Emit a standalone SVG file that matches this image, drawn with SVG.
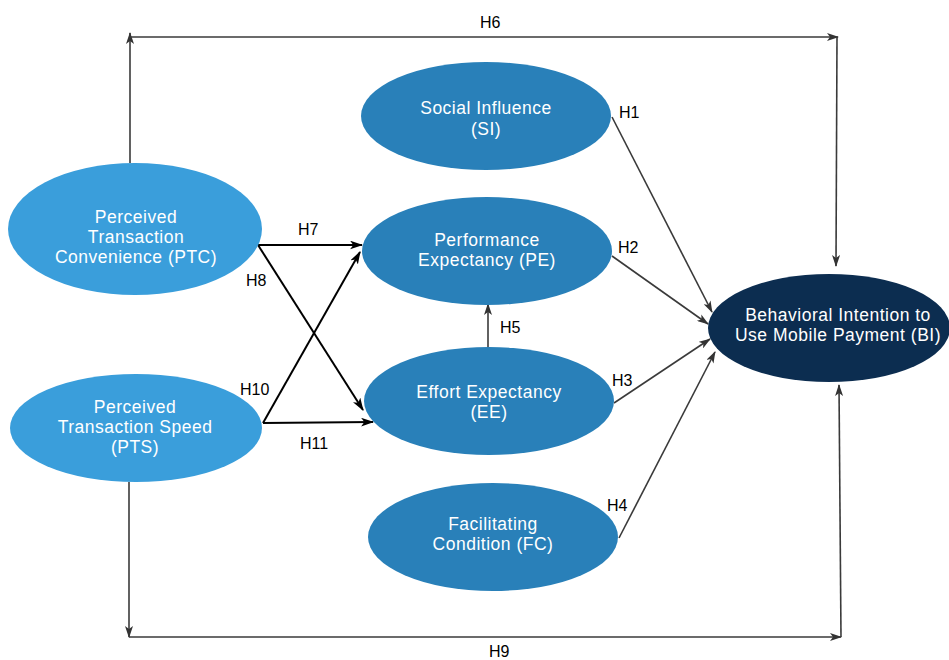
<svg xmlns="http://www.w3.org/2000/svg" width="949" height="660" viewBox="0 0 949 660">
<style>
.light{fill:#3a9edb}
.mid{fill:#2980b9}
.dark{fill:#0c2d50}
.nt{font-family:"Liberation Sans",Arial,sans-serif;font-size:17.5px;letter-spacing:0.5px;fill:#ffffff;text-anchor:middle}
.lb{font-family:"Liberation Sans",Arial,sans-serif;font-size:16px;fill:#000000}
.c{fill:none;stroke:#3a3a3a;stroke-width:1.6}
.k{fill:none;stroke:#000000;stroke-width:2}
</style>
<defs>
<marker id="ah" viewBox="0 0 12 8" refX="11" refY="4" markerWidth="12" markerHeight="8" markerUnits="userSpaceOnUse" orient="auto">
<path d="M0,0 L12,4 L0,8 L3,4 z" fill="#333333"/>
</marker>
<marker id="ahk" viewBox="0 0 12 8" refX="11" refY="4" markerWidth="13" markerHeight="9" markerUnits="userSpaceOnUse" orient="auto">
<path d="M0,0 L12,4 L0,8 L3,4 z" fill="#000000"/>
</marker>
</defs>
<rect width="949" height="660" fill="#ffffff"/>
<g id="connectors">
<line class="c" x1="130" y1="163" x2="130" y2="33" marker-end="url(#ah)"/>
<line class="c" x1="130" y1="37" x2="838" y2="37" marker-end="url(#ah)"/>
<line class="c" x1="837" y1="37" x2="836" y2="266" marker-end="url(#ah)"/>
<line class="c" x1="129" y1="482" x2="129" y2="637" marker-end="url(#ah)"/>
<line class="c" x1="129" y1="637" x2="841" y2="637" marker-end="url(#ah)"/>
<line class="c" x1="841" y1="637" x2="839" y2="385" marker-end="url(#ah)"/>
<line class="c" x1="612" y1="117" x2="712" y2="312" marker-end="url(#ah)"/>
<line class="c" x1="612" y1="256" x2="708" y2="324" marker-end="url(#ah)"/>
<line class="c" x1="614" y1="403" x2="710" y2="339" marker-end="url(#ah)"/>
<line class="c" x1="619" y1="538" x2="715" y2="352" marker-end="url(#ah)"/>
<line class="c" x1="488" y1="347" x2="488" y2="304" marker-end="url(#ah)"/>
<line class="k" x1="258" y1="245" x2="362" y2="245" marker-end="url(#ahk)"/>
<line class="k" x1="258" y1="245" x2="363" y2="410" marker-end="url(#ahk)"/>
<line class="k" x1="263" y1="423" x2="360" y2="252" marker-end="url(#ahk)"/>
<line class="k" x1="263" y1="423" x2="373" y2="422" marker-end="url(#ahk)"/>
<text class="lb" x="480" y="28">H6</text>
<text class="lb" x="619" y="118">H1</text>
<text class="lb" x="618" y="253">H2</text>
<text class="lb" x="612" y="386">H3</text>
<text class="lb" x="607" y="511">H4</text>
<text class="lb" x="500" y="333">H5</text>
<text class="lb" x="298" y="235">H7</text>
<text class="lb" x="246" y="286">H8</text>
<text class="lb" x="489" y="657">H9</text>
<text class="lb" x="240" y="395">H10</text>
<text class="lb" x="300" y="449">H11</text>
</g>
<g id="PTC">
<ellipse class="light" cx="135" cy="229" rx="127" ry="66"/>
<text class="nt" x="136" y="223">Perceived</text>
<text class="nt" x="136" y="243">Transaction</text>
<text class="nt" x="136" y="263">Convenience (PTC)</text>
</g>
<g id="PTS">
<ellipse class="light" cx="136" cy="428" rx="126" ry="54"/>
<text class="nt" x="135" y="413">Perceived</text>
<text class="nt" x="135" y="433">Transaction Speed</text>
<text class="nt" x="135" y="453">(PTS)</text>
</g>
<g id="SI">
<ellipse class="mid" cx="486" cy="116" rx="125" ry="54"/>
<text class="nt" x="486" y="114">Social Influence</text>
<text class="nt" x="486" y="135">(SI)</text>
</g>
<g id="PE">
<ellipse class="mid" cx="487" cy="251" rx="125" ry="54"/>
<text class="nt" x="487" y="246">Performance</text>
<text class="nt" x="487" y="266">Expectancy (PE)</text>
</g>
<g id="EE">
<ellipse class="mid" cx="489" cy="401" rx="125" ry="54"/>
<text class="nt" x="489" y="398">Effort Expectancy</text>
<text class="nt" x="489" y="418">(EE)</text>
</g>
<g id="FC">
<ellipse class="mid" cx="493" cy="537" rx="125" ry="54"/>
<text class="nt" x="493" y="530">Facilitating</text>
<text class="nt" x="493" y="550">Condition (FC)</text>
</g>
<g id="BI">
<ellipse class="dark" cx="829" cy="328" rx="121" ry="54"/>
<text class="nt" x="838" y="321">Behavioral Intention to</text>
<text class="nt" x="838" y="341">Use Mobile Payment (BI)</text>
</g>
</svg>
